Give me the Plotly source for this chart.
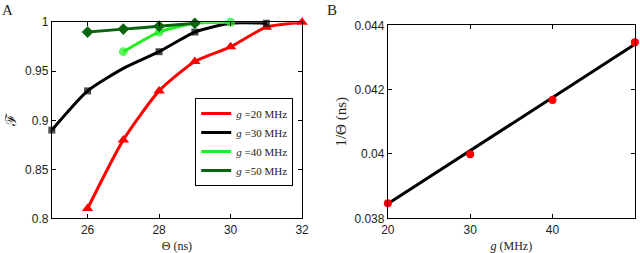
import plotly.graph_objects as go

# Panel A data
theta20 = [26, 27, 28, 29, 30, 31, 32]
F20 = [0.81, 0.88, 0.93, 0.96, 0.975, 0.995, 1.0]
theta30 = [25, 26, 27, 28, 29, 30, 31]
F30 = [0.89, 0.93, 0.953, 0.97, 0.99, 0.999, 0.999]
mk30 = [1, 1, 0, 1, 1, 0, 1]
theta40 = [27, 28, 29, 30]
F40 = [0.97, 0.99, 0.999, 1.0]
mk40 = [1, 1, 0, 1]
theta50 = [26, 27, 28, 29]
F50 = [0.99, 0.993, 0.996, 0.999]

# Panel B data
g_vals = [20, 30, 40, 50]
inv_theta = [0.03847, 0.03999, 0.04168, 0.04347]
g_fit = [20, 50]
inv_fit = [0.03845, 0.04341]

serif = "Liberation Serif"
sans = "Liberation Sans"

fig = go.Figure()

def add(x, y, color, symbol, size, name, msizes=None):
    sizes = size if msizes is None else [size * m for m in msizes]
    fig.add_trace(go.Scatter(
        x=x, y=y, mode="lines", name=name,
        line=dict(color=color, width=3, shape="spline", smoothing=0.6),
        xaxis="x", yaxis="y"))
    fig.add_trace(go.Scatter(
        x=x, y=y, mode="markers", showlegend=False, cliponaxis=False,
        marker=dict(color=color, symbol=symbol, size=sizes, line=dict(width=0)),
        xaxis="x", yaxis="y"))

add(theta20, F20, "#ff0000", "triangle-up", 10, "<i>g</i> =20 MHz")
add(theta30, F30, "#000000", "square", 7, "<i>g</i> =30 MHz", mk30)
add(theta40, F40, "#22ee22", "circle", 9, "<i>g</i> =40 MHz", mk40)
add(theta50, F50, "#0a6410", "diamond", 9, "<i>g</i> =50 MHz")

fig.add_trace(go.Scatter(x=g_fit, y=inv_fit, mode="lines",
                         line=dict(color="black", width=3),
                         showlegend=False, xaxis="x2", yaxis="y2"))
fig.add_trace(go.Scatter(x=g_vals, y=inv_theta, mode="markers", cliponaxis=False,
                         marker=dict(color="#ff0000", size=8),
                         showlegend=False, xaxis="x2", yaxis="y2"))

ax_common = dict(showgrid=False, zeroline=False, showline=True, linecolor="black",
                 linewidth=1, mirror="ticks", ticks="inside", ticklen=4, automargin=False,
                 tickcolor="black", tickfont=dict(family=sans, size=12, color="#222"))

fig.update_layout(
    width=640, height=253,
    margin=dict(l=0, r=0, t=0, b=0),
    paper_bgcolor="white", plot_bgcolor="white",
    showlegend=True,
    xaxis=dict(domain=[0.081, 0.472], range=[25, 32], tickvals=[26, 28, 30, 32],
               title=dict(text="Θ (ns)", font=dict(family=serif, size=12, color="#222"), standoff=7),
               anchor="y", **ax_common),
    yaxis=dict(domain=[0.137, 0.912], range=[0.8, 1.0],
               tickvals=[0.8, 0.85, 0.9, 0.95, 1.0], ticktext=["0.8", "0.85", "0.9", "0.95", "1"],
               title=dict(text="ℱ", font=dict(family=serif, size=15, color="#222"), standoff=4),
               anchor="x", **ax_common),
    xaxis2=dict(domain=[0.606, 0.992], range=[20, 50], tickvals=[20, 30, 40, 50],
                title=dict(text="<i>g</i> (MHz)", font=dict(family=serif, size=12, color="#222"), standoff=7),
                anchor="y2", **ax_common),
    yaxis2=dict(domain=[0.137, 0.9], range=[0.038, 0.044],
                tickvals=[0.038, 0.040, 0.042, 0.044], ticktext=["0.038", "0.04", "0.042", "0.044"],
                title=dict(text="1/Θ (ns)", font=dict(family=serif, size=15, color="#222"), standoff=4),
                anchor="x2", **ax_common),
    legend=dict(x=0.305, y=0.613, xanchor="left", yanchor="top",
                bgcolor="white", bordercolor="black", borderwidth=1,
                font=dict(family=serif, size=11, color="#222"),
                tracegroupgap=0, itemwidth=30),
    annotations=[
        dict(text="A", x=0.0, y=1.0, xref="paper", yref="paper", xanchor="left", yanchor="top",
             showarrow=False, font=dict(family=serif, size=15, color="#222")),
        dict(text="B", x=0.508, y=1.0, xref="paper", yref="paper", xanchor="left", yanchor="top",
             showarrow=False, font=dict(family=serif, size=15, color="#222")),
    ],
)

fig.write_html("out.html", config={"displayModeBar": False},
               post_script="document.body.style.margin='0';document.body.style.overflow='hidden';")
